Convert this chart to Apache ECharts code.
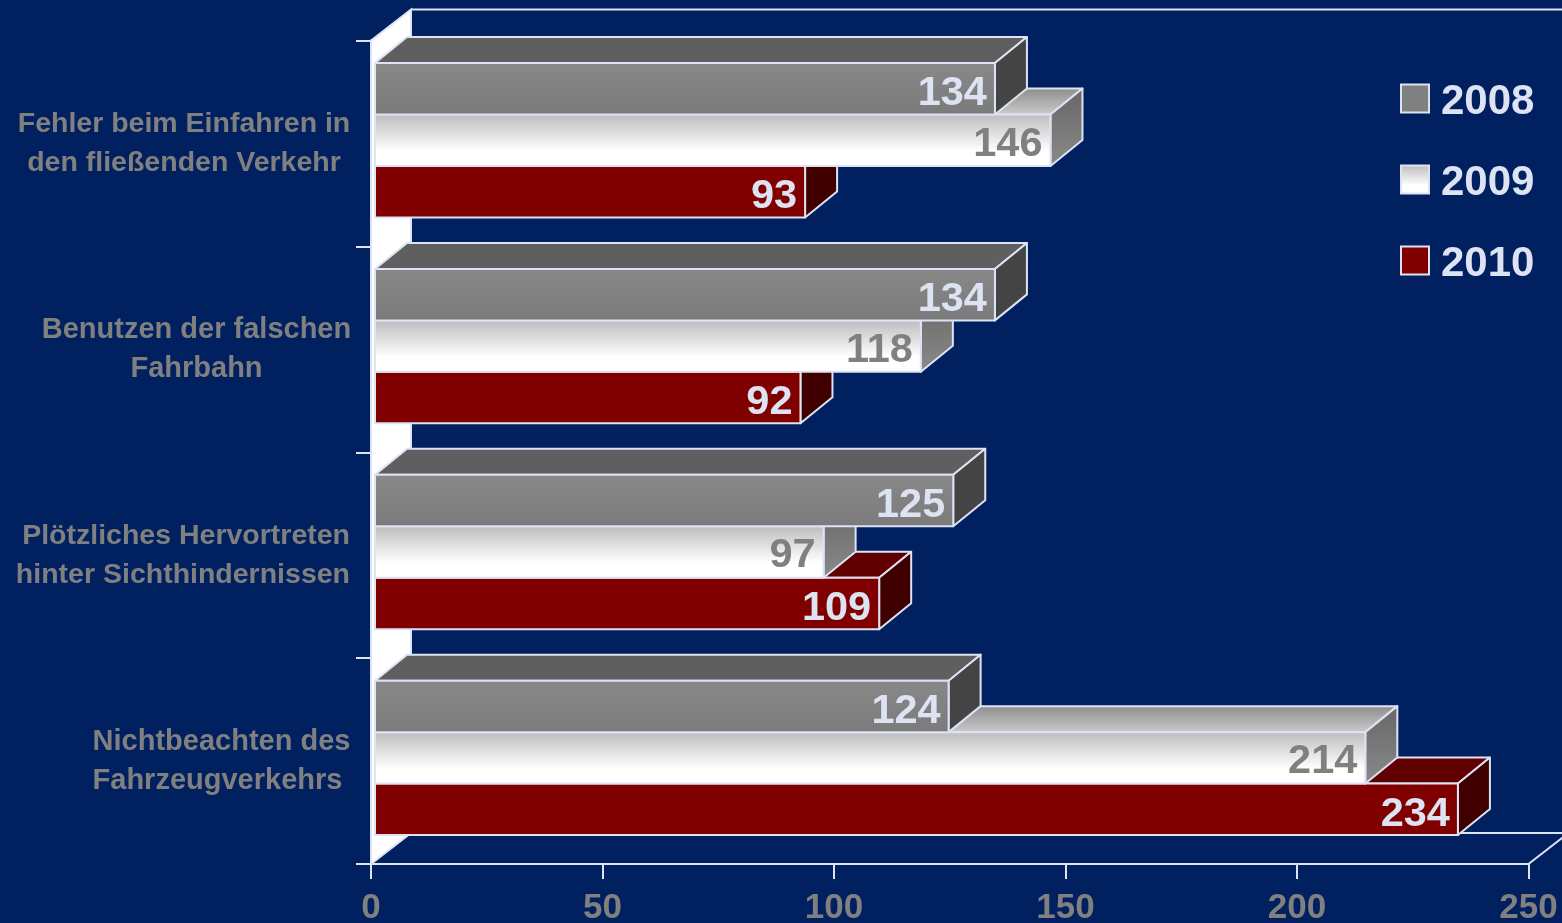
<!DOCTYPE html>
<html>
<head>
<meta charset="utf-8">
<title>Unfallursachen</title>
<script src="https://cdn.jsdelivr.net/npm/echarts@6/dist/echarts.min.js"></script>
<style>
  html, body { margin: 0; padding: 0; background: #002060; }
  #main { width: 1562px; height: 923px; }
</style>
</head>
<body>
<div id="main"></div>
<script>
var categories = [
  'Fehler beim Einfahren in\nden fließenden Verkehr',
  'Benutzen der falschen\nFahrbahn',
  'Plötzliches Hervortreten\nhinter Sichthindernissen',
  'Nichtbeachten des\nFahrzeugverkehrs\u00a0'
]
var years = ['2008', '2009', '2010']
var values2008 = [134, 134, 125, 124]
var values2009 = [146, 118, 97, 214]
var values2010 = [93, 92, 109, 234]
var xTicks = [0, 50, 100, 150, 200, 250]

var EDGE = '#dde3f3'
var GREY_TEXT = '#808080'
var FONT = '"Liberation Sans", Arial, sans-serif'

function grad(from, to, stop) {
  return new echarts.graphic.LinearGradient(0, 0, 0, 1, [
    { offset: 0, color: from },
    { offset: stop || 1, color: to },
    { offset: 1, color: to }
  ])
}

// 每个系列三个面的颜色 front/top/side，labelDy 是数字的上下微调
var looks = [
  { front: grad('#888888', '#7b7b7b'), top: '#5f5f5f', side: '#444444', text: EDGE, legend: '#808080', labelDy: 5 },
  { front: grad('#bbbbbb', '#ffffff', 0.7), top: grad('#8c8c8c', '#cccccc'), side: grad('#666666', '#8a8a8a'), text: GREY_TEXT, legend: grad('#bbbbbb', '#ffffff', 0.7), labelDy: 4 },
  { front: '#800000', top: '#600000', side: '#400000', text: EDGE, legend: '#800000', labelDy: 5 }
]

var myChart = echarts.init(document.getElementById('main'), null, { renderer: 'canvas' })

// 立体的偏移量
var barDx = 32, barDy = -26
var wallDx = 40, wallDy = -31

function face(points, fill) {
  return {
    type: 'polygon',
    shape: { points: points },
    style: { fill: fill, stroke: EDGE, lineWidth: 2, lineJoin: 'round' }
  }
}

function renderBar(seriesIndex) {
  return function (params, api) {
    var look = looks[seriesIndex]
    var i = api.value(1)
    var v = api.value(0)
    var band = api.size([0, 1])[1]
    var h = band * 0.25
    var start = api.coord([0, i])
    var end = api.coord([v, i])
    var x0 = start[0] + 4
    var x1 = end[0] + 3.5
    var y0 = start[1] - 3.2 - h * 1.5 + h * seriesIndex
    var y1 = y0 + h
    return {
      type: 'group',
      children: [
        face([[x0, y0], [x0 + barDx, y0 + barDy], [x1 + barDx, y0 + barDy], [x1, y0]], look.top),
        face([[x1, y0], [x1 + barDx, y0 + barDy], [x1 + barDx, y1 + barDy], [x1, y1]], look.side),
        face([[x0, y0], [x1, y0], [x1, y1], [x0, y1]], look.front),
        {
          type: 'text',
          style: {
            text: String(v),
            x: x1 - 8,
            y: y0 + h / 2 + look.labelDy,
            align: 'right',
            verticalAlign: 'middle',
            fontFamily: FONT,
            fontWeight: 'bold',
            fontSize: 41.5,
            fill: look.text
          }
        }
      ]
    }
  }
}

function renderWalls(params) {
  var c = params.coordSys
  var l = c.x, t = c.y, r = c.x + c.width, b = c.y + c.height
  var line = function (x1, y1, x2, y2) {
    return { type: 'line', shape: { x1: x1, y1: y1, x2: x2, y2: y2 }, style: { stroke: EDGE, lineWidth: 2 } }
  }
  return {
    type: 'group',
    children: [
      {
        type: 'polygon',
        shape: { points: [[l, t], [l + wallDx, t + wallDy], [l + wallDx, b + wallDy], [l, b]] },
        style: { fill: '#ffffff', stroke: EDGE, lineWidth: 2 }
      },
      line(l + wallDx, t + wallDy, r + wallDx, t + wallDy),
      line(l + wallDx, b + wallDy, r + wallDx, b + wallDy),
      line(r, b, r + wallDx, b + wallDy)
    ]
  }
}

function pairs(values) {
  return values.map(function (v, i) { return [v, i] })
}

function catStyle(width, align, size) {
  return { width: width, align: align, color: GREY_TEXT, fontFamily: FONT, fontWeight: 'bold', fontSize: size, lineHeight: 39 }
}

var allValues = [values2008, values2009, values2010]

var option = {
  backgroundColor: '#002060',
  animation: false,
  grid: { left: 371, top: 40.5, width: 1157.5, height: 823.5, outerBoundsMode: 'none' },
  legend: {
    orient: 'vertical',
    left: 1400,
    top: 74,
    padding: 0,
    itemWidth: 28,
    itemHeight: 28,
    itemGap: 32,
    selectedMode: false,
    formatter: '{t|{name}}',
    textStyle: {
      rich: {
        t: { color: EDGE, fontFamily: FONT, fontWeight: 'bold', fontSize: 42, lineHeight: 42, padding: [7, 0, 0, 7] }
      }
    },
    data: years.map(function (y, i) {
      return { name: y, icon: 'rect', itemStyle: { color: looks[i].legend, borderColor: EDGE, borderWidth: 2 } }
    })
  },
  xAxis: {
    type: 'value',
    min: xTicks[0],
    max: xTicks[xTicks.length - 1],
    interval: 50,
    z: 5,
    splitLine: { show: false },
    axisLine: { show: true, lineStyle: { color: EDGE, width: 2 } },
    axisTick: { show: true, length: 15, lineStyle: { color: EDGE, width: 2 } },
    axisLabel: { color: GREY_TEXT, fontFamily: FONT, fontWeight: 'bold', fontSize: 35, margin: 27, hideOverlap: false, showMaxLabel: true }
  },
  yAxis: {
    type: 'category',
    inverse: true,
    data: categories,
    z: 5,
    axisLine: { show: true, lineStyle: { color: EDGE, width: 2 } },
    axisTick: { show: true, length: 15, lineStyle: { color: EDGE, width: 2 } },
    axisLabel: {
      color: GREY_TEXT,
      fontFamily: FONT,
      fontWeight: 'bold',
      fontSize: 28.5,
      lineHeight: 39,
      margin: 21,
      align: 'right',
      formatter: function (text, idx) {
        return text.split('\n').map(function (s) { return '{c' + idx + '|' + s + '}' }).join('\n')
      },
      rich: {
        c0: catStyle(332, 'center', 28.5),
        c1: catStyle(307, 'center', 29),
        c2: catStyle(334, 'right', 28.5),
        c3: catStyle(257, 'center', 29)
      }
    }
  },
  series: [
    { type: 'custom', name: 'walls', z: 1, silent: true, renderItem: renderWalls, data: [[0, 0]] }
  ].concat(years.map(function (y, i) {
    // 2010 在最下面，2008 在最上面
    return {
      type: 'custom',
      name: y,
      z: 4 - i,
      silent: true,
      encode: { x: 0, y: 1 },
      renderItem: renderBar(i),
      data: pairs(allValues[i])
    }
  }))
}

myChart.setOption(option)

window.addEventListener('resize', function () {
  myChart.resize()
})
</script>
</body>
</html>
